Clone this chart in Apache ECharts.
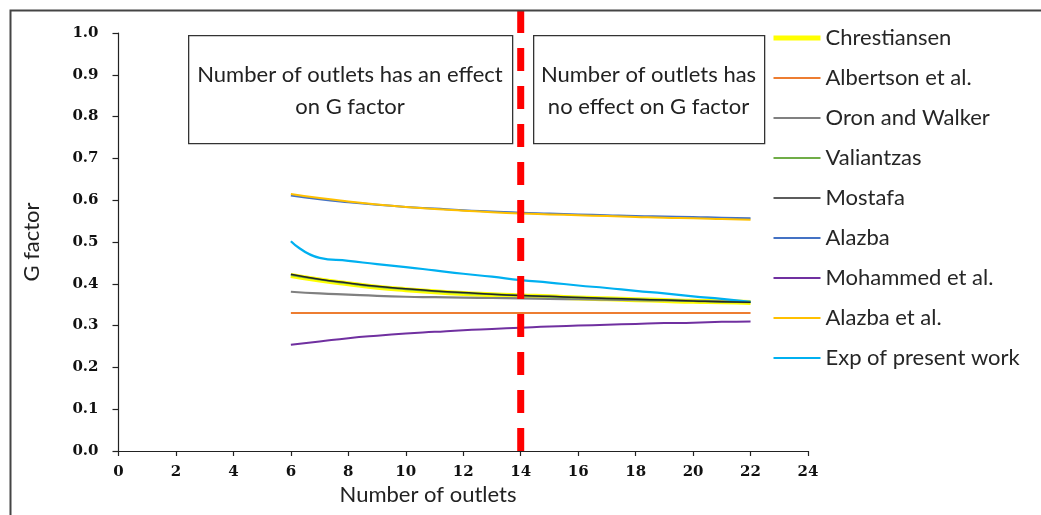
<!DOCTYPE html>
<html>
<head>
<meta charset="utf-8">
<script src="https://cdn.jsdelivr.net/npm/echarts@6/dist/echarts.min.js"></script>
<style>
  html, body { margin: 0; padding: 0; background: #fff; }
  #chart { width: 1041px; height: 515px; }
</style>
</head>
<body>
<div id="chart"></div>
<script>
// ---- Data ----
const outlets = [6, 7, 8, 9, 10, 11, 12, 13, 14, 15, 16, 17, 18, 19, 20, 21, 22];
const chrestiansen = [0.420, 0.409, 0.400, 0.392, 0.386, 0.381, 0.377, 0.374, 0.371, 0.369, 0.366, 0.364, 0.362, 0.360, 0.358, 0.357, 0.355];
const albertson    = [0.330, 0.330, 0.330, 0.330, 0.330, 0.330, 0.330, 0.330, 0.330, 0.330, 0.330, 0.330, 0.330, 0.330, 0.330, 0.330, 0.330];
const oronWalker   = [0.381, 0.377, 0.374, 0.371, 0.369, 0.368, 0.367, 0.366, 0.365, 0.364, 0.363, 0.362, 0.361, 0.360, 0.359, 0.358, 0.357];
const valiantzas   = [0.421, 0.410, 0.401, 0.393, 0.387, 0.382, 0.378, 0.375, 0.372, 0.369, 0.367, 0.365, 0.363, 0.361, 0.359, 0.357, 0.356];
const mostafa      = [0.423, 0.411, 0.402, 0.394, 0.388, 0.383, 0.379, 0.375, 0.372, 0.370, 0.367, 0.365, 0.363, 0.361, 0.359, 0.357, 0.356];
const alazba       = [0.611, 0.602, 0.595, 0.589, 0.584, 0.580, 0.576, 0.573, 0.570, 0.568, 0.566, 0.564, 0.562, 0.561, 0.560, 0.558, 0.557];
const mohammed     = [0.254, 0.262, 0.270, 0.276, 0.281, 0.285, 0.289, 0.292, 0.295, 0.298, 0.300, 0.302, 0.304, 0.306, 0.307, 0.309, 0.310];
const alazbaEtAl   = [0.615, 0.605, 0.597, 0.590, 0.584, 0.579, 0.575, 0.571, 0.568, 0.566, 0.564, 0.562, 0.560, 0.558, 0.557, 0.555, 0.553];
const expPresent   = [0.502, 0.462, 0.455, 0.447, 0.440, 0.432, 0.424, 0.417, 0.409, 0.403, 0.396, 0.390, 0.383, 0.377, 0.370, 0.364, 0.357];

const boundaryX = 14;
const boundaryY = [0, 1.055];
const xMin = 0, xMax = 24, xStep = 2;
const yMin = 0, yMax = 1.0, yStep = 0.1;

const seriesNames = ['Chrestiansen', 'Albertson et al.', 'Oron and Walker', 'Valiantzas', 'Mostafa', 'Alazba', 'Mohammed et al.', 'Alazba et al.', 'Exp of present work'];
const boxLeftLines = ['Number of outlets has an effect', 'on G factor'];
const boxRightLines = ['Number of outlets has', 'no effect on G factor'];
const xAxisTitle = 'Number of outlets';
const yAxisTitle = 'G factor';

// ---- Build ----
function pairs(ys) { return outlets.map((x, i) => [x, ys[i]]); }

const chart = echarts.init(document.getElementById('chart'), null, { renderer: 'canvas' });
const sansFont = 'Lato';
const sansSize = 22;
const tickFont = { fontFamily: 'DejaVu Serif', fontWeight: 'bold', fontSize: 15, color: '#111' };

const styles = [
  { color: '#FFFF00', width: 5, z: 2 },
  { color: '#ED7D31', width: 2, z: 3 },
  { color: '#808080', width: 2.2, z: 3 },
  { color: '#70AD47', width: 2, z: 3 },
  { color: '#262626', width: 1.5, z: 4 },
  { color: '#4472C4', width: 2, z: 3 },
  { color: '#7030A0', width: 2, z: 3 },
  { color: '#FFC000', width: 2, z: 4 },
  { color: '#00B0F0', width: 2.2, z: 3 }
];
const values = [chrestiansen, albertson, oronWalker, valiantzas, mostafa, alazba, mohammed, alazbaEtAl, expPresent];

const series = seriesNames.map((name, i) => ({
  name: name, type: 'line', data: pairs(values[i]), smooth: true, symbol: 'none',
  lineStyle: { color: styles[i].color, width: styles[i].width }, itemStyle: { color: styles[i].color },
  z: styles[i].z
}));
series.push({
  name: 'boundary', type: 'line', clip: false, symbol: 'none', z: 60,
  data: [[boundaryX, boundaryY[0]], [boundaryX, boundaryY[1]]],
  lineStyle: { color: '#FF0000', width: 7, type: [23, 15] }
});

const legendData = seriesNames.map((name, i) => ({
  name: name,
  itemStyle: { opacity: 0 },
  lineStyle: { width: i === 0 ? 5 : (i === 4 ? 1.5 : 2), color: styles[i].color }
}));

function boxText(x, y, text) {
  return { type: 'text', x: x, y: y, z: 51,
    style: { text: text, fontFamily: sansFont, fontSize: sansSize, fill: '#222', textAlign: 'center', textVerticalAlign: 'middle' } };
}

const option = {
  animation: false,
  backgroundColor: '#fff',
  grid: { left: 118.5, right: 233, top: 33, bottom: 64, containLabel: false },
  xAxis: {
    type: 'value', min: xMin, max: xMax, interval: xStep,
    axisLine: { show: true, lineStyle: { color: '#222', width: 1.2 } },
    axisTick: { show: true, length: 5, lineStyle: { color: '#222', width: 1.2 } },
    axisLabel: Object.assign({ margin: 14 }, tickFont),
    splitLine: { show: false }
  },
  yAxis: {
    type: 'value', min: yMin, max: yMax, interval: yStep,
    name: yAxisTitle, nameLocation: 'middle', nameGap: 76, nameRotate: 90,
    nameTextStyle: { fontFamily: sansFont, fontSize: sansSize, color: '#222' },
    axisLine: { show: true, lineStyle: { color: '#222', width: 1.2 } },
    axisTick: { show: true, length: 6, lineStyle: { color: '#222', width: 1.2 } },
    axisLabel: Object.assign({ margin: 20, formatter: v => v.toFixed(1) }, tickFont),
    splitLine: { show: false }
  },
  legend: {
    orient: 'vertical', left: 771, top: 27, padding: 0,
    itemWidth: 47, itemHeight: 22, itemGap: 18,
    data: legendData,
    textStyle: { fontFamily: sansFont, fontSize: sansSize, color: '#262626', lineHeight: 22 }
  },
  graphic: [
    { type: 'rect', left: 8, top: 8, shape: { width: 1100, height: 600 }, style: { fill: 'none', stroke: '#444', lineWidth: 2 }, silent: true, z: 100 },
    { type: 'rect', left: 188, top: 35, shape: { width: 324, height: 108 }, style: { fill: '#fff', stroke: '#333', lineWidth: 1.3 }, z: 50 },
    { type: 'rect', left: 533, top: 35, shape: { width: 231, height: 108 }, style: { fill: '#fff', stroke: '#333', lineWidth: 1.3 }, z: 50 },
    boxText(350, 75, boxLeftLines[0]),
    boxText(350, 107, boxLeftLines[1]),
    boxText(648.5, 75, boxRightLines[0]),
    boxText(648.5, 107, boxRightLines[1]),
    boxText(428, 495, xAxisTitle)
  ],
  series: series
};
chart.setOption(option);
</script>
</body>
</html>
